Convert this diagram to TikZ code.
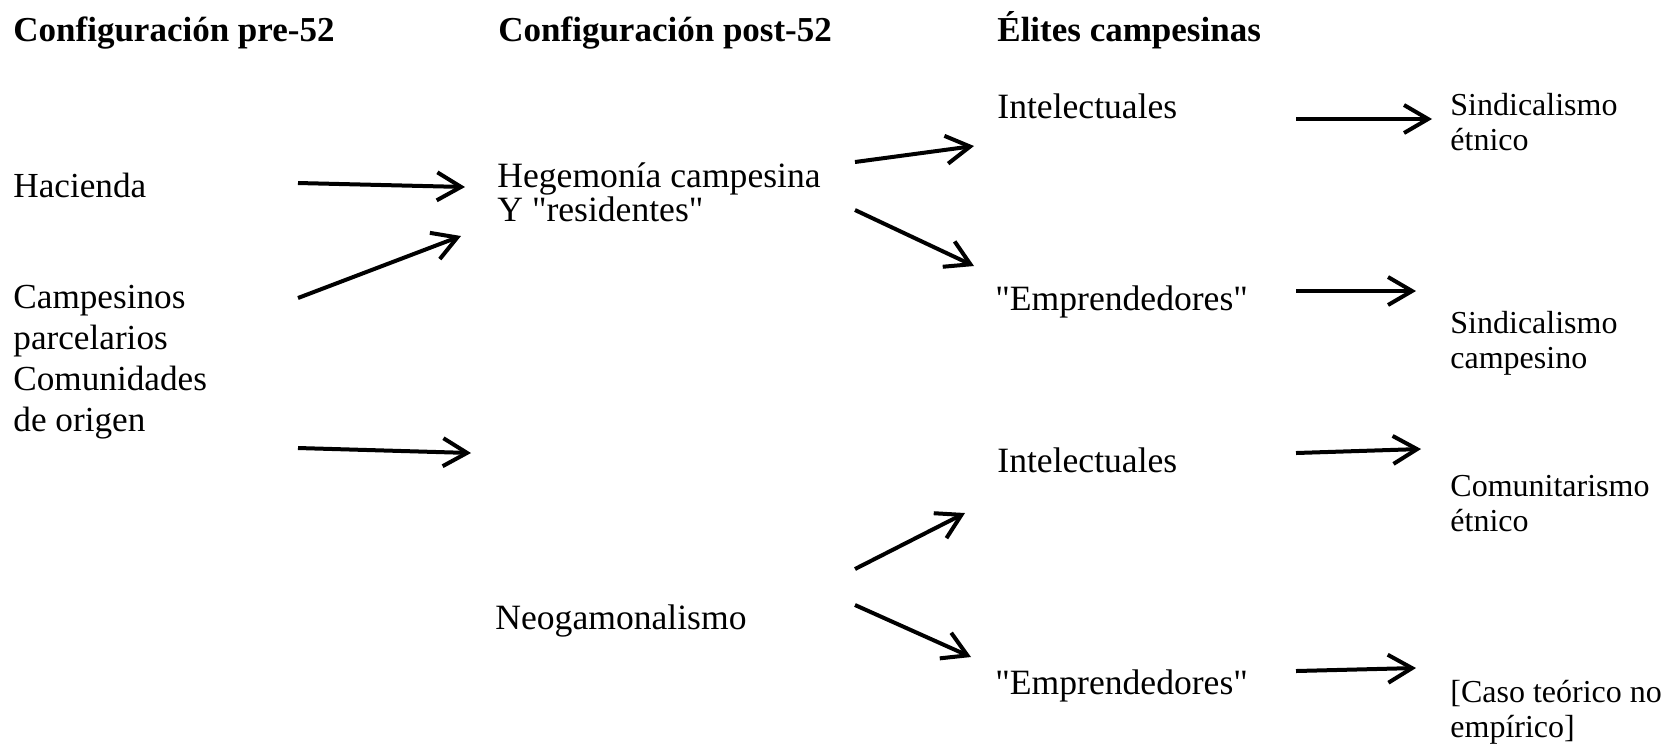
\documentclass[tikz,border=0pt]{standalone}
\usepackage{fontspec}
\setmainfont{Liberation Serif}
\usetikzlibrary{arrows.meta}

\begin{document}
\begin{tikzpicture}[x=0.5pt, y=-0.5pt,
        titulo/.style={anchor=base west, inner sep=0pt, font=\fontsize{17.5}{20}\selectfont\bfseries},
        origen/.style={anchor=base west, inner sep=0pt, align=left, font=\fontsize{17.6}{20.5}\selectfont},
        texto/.style={anchor=base west, inner sep=0pt, align=left, font=\fontsize{17.8}{17}\selectfont},
        salida/.style={anchor=base west, inner sep=0pt, align=left, font=\fontsize{16}{17.5}\selectfont},
        flecha/.style={-{Straight Barb[length=12pt,width=14pt]}, line width=2pt}]
        \useasboundingbox (0,0) rectangle (1669,752);

        \node[titulo] (pre) at (13,41) {Configuración pre-52};
        \node[titulo] (post) at (498,41) {Configuración post-52};
        \node[titulo] (elites) at (997,41) {Élites campesinas};

        \node[origen] (hacienda) at (13,197) {Hacienda};
        \node[origen] (campesinos) at (13,431) {Campesinos\\parcelarios\\Comunidades\\de origen};

        \node[texto] (hegemonia) at (497,221) {Hegemonía campesina\\Y \textquotedbl residentes\textquotedbl};
        \node[texto] (neogam) at (495,629) {Neogamonalismo};

        \node[texto] (intel1) at (997,118) {Intelectuales};
        \node[texto] (empre1) at (995,310) {\textquotedbl Emprendedores\textquotedbl};
        \node[texto] (intel2) at (997,472) {Intelectuales};
        \node[texto] (empre2) at (995,694) {\textquotedbl Emprendedores\textquotedbl};

        \node[salida] (sindet) at (1450,150) {Sindicalismo\\étnico};
        \node[salida] (sindcamp) at (1450,368) {Sindicalismo\\campesino};
        \node[salida] (comet) at (1450,531) {Comunitarismo\\étnico};
        \node[salida] (caso) at (1450,737) {[Caso teórico no\\empírico]};

        \coordinate (a1) at (298,183);  \coordinate (a1f) at (465,187);
        \coordinate (a2) at (298,298);  \coordinate (a2f) at (461,236);
        \coordinate (a3) at (298,448);  \coordinate (a3f) at (471,453);
        \coordinate (b1) at (855,162);  \coordinate (b1f) at (974,146);
        \coordinate (b2) at (855,210);  \coordinate (b2f) at (974,266);
        \coordinate (b3) at (855,569);  \coordinate (b3f) at (965,513);
        \coordinate (b4) at (855,605);  \coordinate (b4f) at (971,657);
        \coordinate (c1) at (1296,119); \coordinate (c1f) at (1432,119);
        \coordinate (c2) at (1296,291); \coordinate (c2f) at (1416,291);
        \coordinate (c3) at (1296,453); \coordinate (c3f) at (1421,449);
        \coordinate (c4) at (1296,671); \coordinate (c4f) at (1416,668);

        \foreach \f in {a1,a2,a3,b1,b2,b3,b4,c1,c2,c3,c4}
            \draw[flecha] (\f) -- (\f f);
\end{tikzpicture}
\end{document}
